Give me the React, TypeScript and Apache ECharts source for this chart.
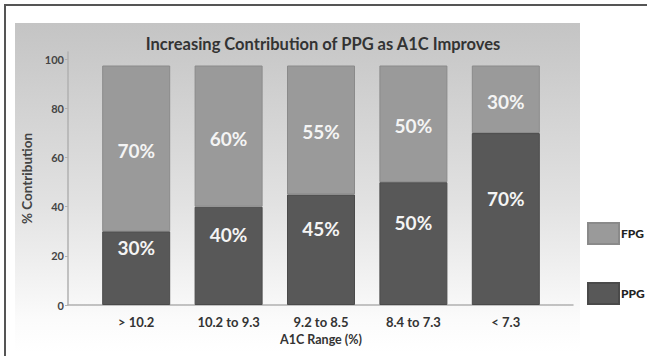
import React, { useEffect, useRef } from "react";
import * as echarts from "echarts";

const categories = ["> 10.2", "10.2 to 9.3", "9.2 to 8.5", "8.4 to 7.3", "< 7.3"];
const ppgValues = [30, 40, 45, 50, 70];
const fpgHeights = [67.5, 57.5, 52.5, 47.5, 27.5];
const ppgLabels = ["30%", "40%", "45%", "50%", "70%"];
const fpgLabels = ["70%", "60%", "55%", "50%", "30%"];
const yTicks = [0, 20, 40, 60, 80, 100];

export default function App() {
  const ref = useRef<HTMLDivElement>(null);
  useEffect(() => {
    if (!ref.current) return;
    const chart = echarts.init(ref.current, undefined, { renderer: "svg" });
    const font = "Lato, 'DejaVu Sans', sans-serif";
    chart.setOption({
      animation: false,
      title: {
        text: "Increasing Contribution of PPG as A1C Improves",
        left: 318,
        top: 30,
        textAlign: "center",
        textStyle: { fontFamily: font, fontSize: 16.5, fontWeight: "bold", color: "#333" },
      },
      legend: {
        orient: "vertical",
        left: 582,
        top: 217,
        itemWidth: 31,
        itemHeight: 21,
        itemGap: 37,
        icon: "rect",
        data: ["FPG", "PPG"],
        textStyle: { fontFamily: font, fontSize: 12, fontWeight: 900, color: "#222", padding: [0, 0, 0, -3] },
      },
      graphic: [
        {
          type: "rect",
          z: -10,
          shape: { x: 15, y: 23, width: 565, height: 330 },
          style: {
            fill: new echarts.graphic.LinearGradient(0, 0, 0, 1, [
              { offset: 0, color: "#c4c4c4" },
              { offset: 0.55, color: "#e2e2e2" },
              { offset: 0.9, color: "#fbfbfb" },
              { offset: 1, color: "#ffffff" },
            ]),
          },
        },
        {
          type: "rect",
          z: -5,
          shape: { x: 5, y: 5, width: 700, height: 400 },
          style: { fill: "none", stroke: "#555", lineWidth: 2 },
        },
      ],
      grid: [
        { left: 90, right: 95, top: 52, bottom: 51 },
        { left: 68, right: 74, top: 52, bottom: 51 },
      ],
      xAxis: [
        {
          type: "category",
          gridIndex: 0,
          data: categories,
          axisLine: { show: false },
          axisTick: { show: false },
          axisLabel: { fontFamily: font, fontSize: 13, color: "#333", margin: 10, fontWeight: "bold" },
          name: "A1C Range (%)",
          nameLocation: "middle",
          nameGap: 27,
          nameTextStyle: { fontFamily: font, fontSize: 12.5, color: "#333", fontWeight: "bold" },
        },
        {
          type: "value",
          gridIndex: 1,
          min: 0,
          max: 1,
          axisLine: { show: true, lineStyle: { color: "#b0b0b0", width: 1.5 } },
          axisTick: { show: false },
          axisLabel: { show: false },
          splitLine: { show: false },
        },
      ],
      yAxis: [
        {
          type: "value",
          gridIndex: 0,
          min: 0,
          max: 103,
          show: false,
          splitLine: { show: false },
        },
        {
          type: "value",
          gridIndex: 1,
          min: 0,
          max: 103,
          interval: 20,
          axisLine: { show: true, lineStyle: { color: "#b0b0b0", width: 1.5 } },
          axisTick: { show: true, length: 3, lineStyle: { color: "#b0b0b0" } },
          axisLabel: {
            fontFamily: font,
            fontSize: 11,
            fontWeight: "bold",
            color: "#444",
            margin: 4,
            showMaxLabel: false,
            formatter: (v: number) => (yTicks.indexOf(v) >= 0 ? String(v) : ""),
          },
          splitLine: { show: false },
          name: "% Contribution",
          nameLocation: "middle",
          nameGap: 30,
          nameTextStyle: { fontFamily: font, fontSize: 13.5, fontWeight: "bold", color: "#444" },
        },
      ],
      series: [
        {
          name: "PPG",
          type: "bar",
          stack: "total",
          xAxisIndex: 0,
          yAxisIndex: 0,
          barWidth: 68,
          data: ppgValues,
          itemStyle: { color: "#585858", borderColor: "#4a4a4a", borderWidth: 1 },
          label: {
            show: true,
            position: "inside",
            offset: [0, -21],
            formatter: (p: any) => ppgLabels[p.dataIndex],
            fontFamily: font,
            fontSize: 19,
            fontWeight: "bold",
            color: "#f4f4f4",
          },
        },
        {
          name: "FPG",
          type: "bar",
          stack: "total",
          xAxisIndex: 0,
          yAxisIndex: 0,
          barWidth: 68,
          data: fpgHeights,
          itemStyle: { color: "#9a9a9a", borderColor: "#8a8a8a", borderWidth: 1 },
          label: {
            show: true,
            position: "inside",
            offset: [0, 2],
            formatter: (p: any) => fpgLabels[p.dataIndex],
            fontFamily: font,
            fontSize: 19,
            fontWeight: "bold",
            color: "#f4f4f4",
          },
        },
      ],
    });
    return () => chart.dispose();
  }, []);
  return (
    <div
      ref={ref}
      style={{ position: "fixed", left: 0, top: 0, width: 647, height: 356, background: "#fff" }}
    />
  );
}
